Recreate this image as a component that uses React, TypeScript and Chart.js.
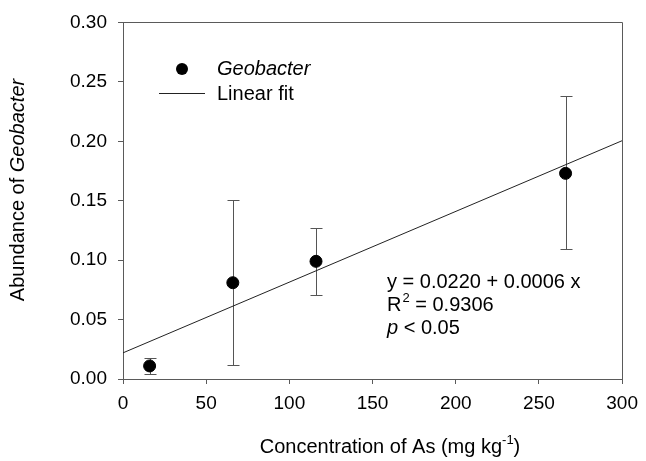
import React, { useEffect, useRef } from "react";
import { Chart, registerables } from "chart.js";

Chart.register(...registerables);

const xValues = [16, 66, 116, 266];
const yValues = [0.011, 0.081, 0.099, 0.173];
const errLow = [0.004, 0.012, 0.071, 0.109];
const errHigh = [0.018, 0.151, 0.127, 0.238];
const fitX = [0, 300];
const fitY = [0.022, 0.2005];
const legendLabels = ["Geobacter", "Linear fit"];
const equationLines = ["y = 0.0220 + 0.0006 x", "R", "2", " = 0.9306", "p", " < 0.05"];

const FONT = "'Liberation Sans', Arial, Helvetica, sans-serif";
const AXIS_COLOR = "#5a5a5a";

const overlayPlugin = {
  id: "overlay",
  beforeDatasetsDraw(chart: any) {
    const ctx = chart.ctx;
    const xs = chart.scales.x;
    const ys = chart.scales.y;
    ctx.save();
    ctx.strokeStyle = "#555";
    ctx.lineWidth = 1;
    for (let i = 0; i < xValues.length; i++) {
      const px = Math.round(xs.getPixelForValue(xValues[i])) + 0.5;
      const top = Math.round(ys.getPixelForValue(errHigh[i])) + 0.5;
      const bot = Math.round(ys.getPixelForValue(errLow[i])) + 0.5;
      ctx.beginPath();
      ctx.moveTo(px, top);
      ctx.lineTo(px, bot);
      ctx.moveTo(px - 6, top);
      ctx.lineTo(px + 6, top);
      ctx.moveTo(px - 6, bot);
      ctx.lineTo(px + 6, bot);
      ctx.stroke();
    }
    ctx.restore();
  },
  afterDraw(chart: any) {
    const ctx = chart.ctx;
    const area = chart.chartArea;
    ctx.save();
    // frame top and right
    ctx.strokeStyle = AXIS_COLOR;
    ctx.lineWidth = 1;
    ctx.beginPath();
    ctx.moveTo(Math.round(area.left) + 0.5, Math.round(area.top) + 0.5);
    ctx.lineTo(Math.round(area.right) + 0.5, Math.round(area.top) + 0.5);
    ctx.lineTo(Math.round(area.right) + 0.5, Math.round(area.bottom) + 0.5);
    ctx.stroke();

    ctx.fillStyle = "#000";
    ctx.textBaseline = "middle";
    ctx.textAlign = "left";

    // legend
    ctx.beginPath();
    ctx.arc(182, 69, 6, 0, Math.PI * 2);
    ctx.fill();
    ctx.font = `italic 20px ${FONT}`;
    ctx.fillText(legendLabels[0], 217, 69);
    ctx.strokeStyle = "#222";
    ctx.beginPath();
    ctx.moveTo(159, 93.5);
    ctx.lineTo(205, 93.5);
    ctx.stroke();
    ctx.font = `20px ${FONT}`;
    ctx.fillText(legendLabels[1], 217, 94);

    // equation
    ctx.font = `20px ${FONT}`;
    ctx.fillText(equationLines[0], 387, 282);
    ctx.fillText(equationLines[1], 387, 305);
    let w = ctx.measureText(equationLines[1]).width;
    ctx.font = `13px ${FONT}`;
    ctx.fillText(equationLines[2], 387 + w + 1, 298);
    const w2 = ctx.measureText(equationLines[2]).width;
    ctx.font = `20px ${FONT}`;
    ctx.fillText(equationLines[3], 387 + w + 1 + w2, 305);
    ctx.font = `italic 20px ${FONT}`;
    ctx.fillText(equationLines[4], 387, 328);
    w = ctx.measureText(equationLines[4]).width;
    ctx.font = `20px ${FONT}`;
    ctx.fillText(equationLines[5], 387 + w, 328);

    // x title
    const xt1 = "Concentration of As (mg kg";
    const xt2 = "-1";
    const xt3 = ")";
    ctx.font = `20px ${FONT}`;
    const a1 = ctx.measureText(xt1).width;
    const a3 = ctx.measureText(xt3).width;
    ctx.font = `13px ${FONT}`;
    const a2 = ctx.measureText(xt2).width;
    const total = a1 + a2 + a3;
    let sx = 390 - total / 2;
    ctx.font = `20px ${FONT}`;
    ctx.fillText(xt1, sx, 447);
    ctx.font = `13px ${FONT}`;
    ctx.fillText(xt2, sx + a1, 440);
    ctx.font = `20px ${FONT}`;
    ctx.fillText(xt3, sx + a1 + a2, 447);

    // y title
    ctx.translate(18.5, 190);
    ctx.rotate(-Math.PI / 2);
    const yt1 = "Abundance of ";
    const yt2 = "Geobacter";
    ctx.font = `20px ${FONT}`;
    const b1 = ctx.measureText(yt1).width;
    ctx.font = `italic 20px ${FONT}`;
    const b2 = ctx.measureText(yt2).width;
    const sy = -(b1 + b2) / 2;
    ctx.font = `20px ${FONT}`;
    ctx.fillText(yt1, sy, 0);
    ctx.font = `italic 20px ${FONT}`;
    ctx.fillText(yt2, sy + b1, 0);
    ctx.restore();
  },
};

export default function App() {
  const ref = useRef<HTMLCanvasElement | null>(null);
  useEffect(() => {
    if (!ref.current) return;
    const chart = new Chart(ref.current, {
      type: "scatter",
      data: {
        datasets: [
          {
            label: legendLabels[0],
            data: xValues.map((x, i) => ({ x, y: yValues[i] })),
            backgroundColor: "#000",
            borderColor: "#000",
            pointRadius: 6,
            pointHoverRadius: 6,
            showLine: false,
          },
          {
            label: legendLabels[1],
            data: fitX.map((x, i) => ({ x, y: fitY[i] })),
            borderColor: "#222",
            borderWidth: 1,
            pointRadius: 0,
            showLine: true,
          },
        ],
      },
      options: {
        responsive: false,
        maintainAspectRatio: false,
        animation: false,
        events: [],
        layout: { padding: { left: 0, top: 16, right: 20, bottom: 0 } },
        plugins: { legend: { display: false }, tooltip: { enabled: false } },
        scales: {
          x: {
            type: "linear",
            min: 0,
            max: 300,
            afterFit: (s: any) => {
              s.height = 82;
            },
            ticks: {
              stepSize: 50,
              color: "#000",
              padding: 8,
              font: { family: FONT, size: 19 },
              maxRotation: 0,
            },
            grid: {
              display: true,
              drawOnChartArea: false,
              drawTicks: true,
              tickLength: 5,
              tickColor: AXIS_COLOR,
            },
            border: { display: true, color: AXIS_COLOR },
          },
          y: {
            type: "linear",
            min: 0,
            max: 0.3,
            afterFit: (s: any) => {
              s.width = 123;
            },
            ticks: {
              stepSize: 0.05,
              color: "#000",
              padding: 11,
              font: { family: FONT, size: 19 },
              callback: (v: any) => Number(v).toFixed(2),
            },
            grid: {
              display: true,
              drawOnChartArea: false,
              drawTicks: true,
              tickLength: 5,
              tickColor: AXIS_COLOR,
            },
            border: { display: true, color: AXIS_COLOR },
          },
        },
      },
      plugins: [overlayPlugin],
    });
    return () => chart.destroy();
  }, []);
  return (
    <div style={{ position: "absolute", left: 0, top: 0, width: 646, height: 461, background: "#fff" }}>
      <canvas ref={ref} width={646} height={461} style={{ display: "block" }} />
    </div>
  );
}
